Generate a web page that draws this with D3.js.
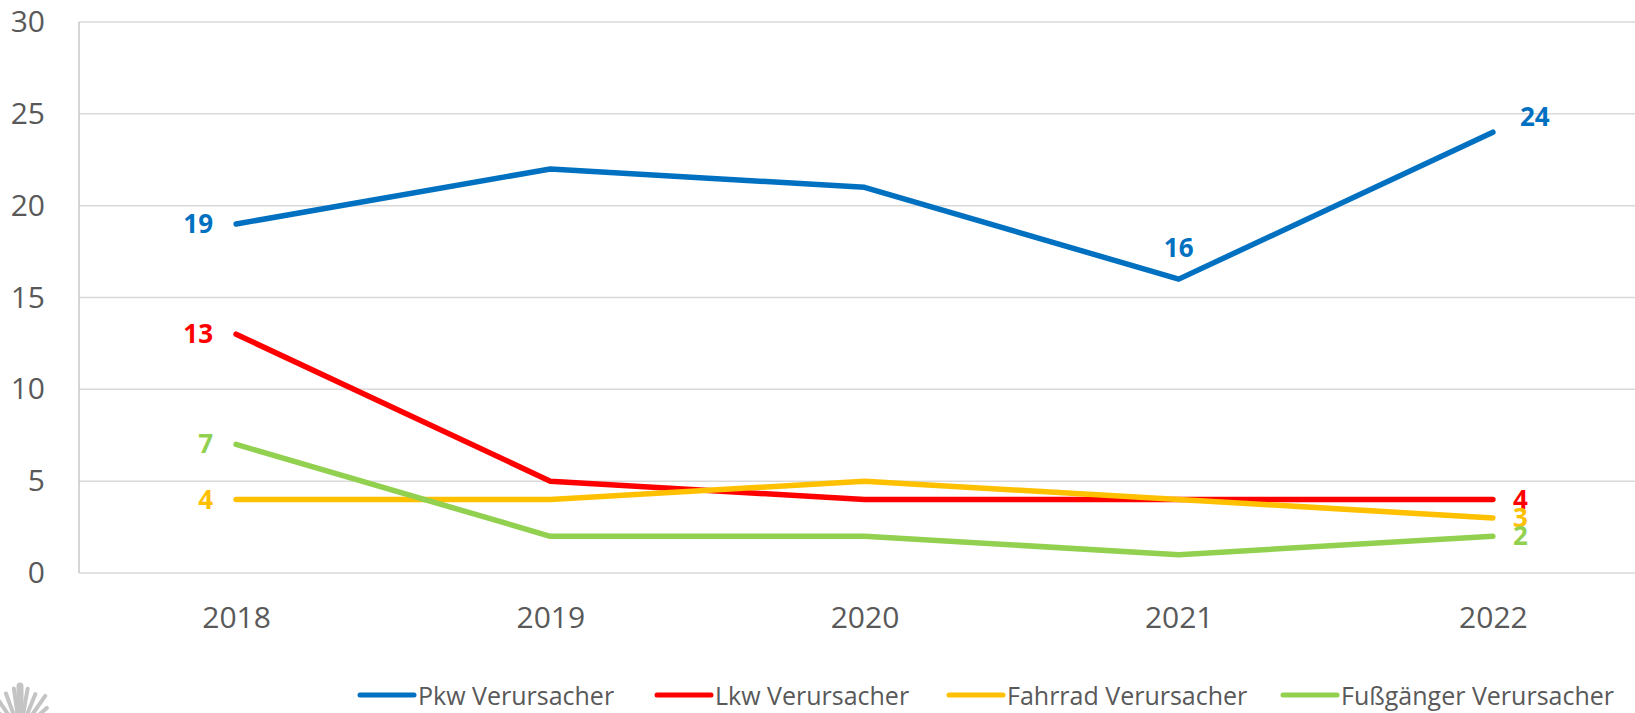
<!DOCTYPE html>
<html>
<head>
<meta charset="utf-8">
<script src="https://cdn.jsdelivr.net/npm/d3@7"></script>
<style>
  html, body { margin: 0; padding: 0; background: #fff; }
  svg { display: block; font-family: "Open Sans", "Noto Sans", sans-serif; }
</style>
</head>
<body>
<svg id="chart" width="1635" height="713"></svg>
<script>
// data
var years = ["2018", "2019", "2020", "2021", "2022"];
var seriesNames = ["Pkw Verursacher", "Lkw Verursacher", "Fahrrad Verursacher", "Fußgänger Verursacher"];
var pkw = [19, 22, 21, 16, 24];
var lkw = [13, 5, 4, 4, 4];
var fahrrad = [4, 4, 5, 4, 3];
var fuss = [7, 2, 2, 1, 2];
var yTicks = [0, 5, 10, 15, 20, 25, 30];
var colors = ["#0070C0", "#FF0000", "#FFC000", "#92D050"];

// which points carry a label, and where it sits
var labels = [
  { s: 0, i: 0, pos: "left" }, { s: 0, i: 3, pos: "above" }, { s: 0, i: 4, pos: "rightUp" },
  { s: 1, i: 0, pos: "left" }, { s: 1, i: 4, pos: "right" },
  { s: 2, i: 0, pos: "left" }, { s: 2, i: 4, pos: "right" },
  { s: 3, i: 0, pos: "left" }, { s: 3, i: 4, pos: "right" }
];

var allSeries = [pkw, lkw, fahrrad, fuss];

var svg = d3.select("#chart");
var plotLeft = 79, plotTop = 22, plotBottom = 573, plotRight = 1650;

var x = d3.scalePoint().domain(years).range([plotLeft, plotRight]).padding(0.5);
var y = d3.scaleLinear().domain([0, 30]).range([plotBottom, plotTop]);

// gridlines
svg.append("g").selectAll("line")
  .data(yTicks)
  .enter().append("line")
  .attr("x1", plotLeft).attr("x2", 1635)
  .attr("y1", function (d) { return y(d); })
  .attr("y2", function (d) { return y(d); })
  .attr("stroke", "#d9d9d9").attr("stroke-width", 1.5);

// left border of plot
svg.append("line")
  .attr("x1", plotLeft).attr("x2", plotLeft).attr("y1", plotTop).attr("y2", plotBottom)
  .attr("stroke", "#c8c8c8").attr("stroke-width", 1.5);

// y axis labels
var yAxis = d3.axisLeft(y).tickValues(yTicks).tickSize(0).tickPadding(34);
var gy = svg.append("g").attr("transform", "translate(" + plotLeft + ",0)").call(yAxis);
gy.select(".domain").remove();
gy.selectAll("text").attr("font-size", 30).attr("fill", "#595959")
  .attr("font-family", "Open Sans, sans-serif");

// x axis labels
var xAxis = d3.axisBottom(x).tickSize(0).tickPadding(34);
var gx = svg.append("g").attr("transform", "translate(0," + plotBottom + ")").call(xAxis);
gx.select(".domain").remove();
gx.selectAll("text").attr("font-size", 30).attr("fill", "#595959")
  .attr("font-family", "Open Sans, sans-serif");

// lines
var line = d3.line()
  .x(function (d, i) { return x(years[i]); })
  .y(function (d) { return y(d); });

svg.append("g").selectAll("path")
  .data(allSeries)
  .enter().append("path")
  .attr("d", line)
  .attr("fill", "none")
  .attr("stroke", function (d, i) { return colors[i]; })
  .attr("stroke-width", 5.5)
  .attr("stroke-linecap", "round")
  .attr("stroke-linejoin", "round");

// data labels
svg.append("g").selectAll("text")
  .data(labels)
  .enter().append("text")
  .attr("x", function (d) {
    var px = x(years[d.i]);
    if (d.pos == "left") return px - 23;
    if (d.pos == "above") return px;
    if (d.pos == "rightUp") return px + 27;
    return px + 20;
  })
  .attr("y", function (d) {
    var py = y(allSeries[d.s][d.i]);
    if (d.pos == "above") return py - 22;
    if (d.pos == "rightUp") return py - 6;
    return py + 9;
  })
  .attr("text-anchor", function (d) {
    if (d.pos == "left") return "end";
    if (d.pos == "above") return "middle";
    return "start";
  })
  .attr("font-size", 26)
  .attr("font-weight", "bold")
  .attr("fill", function (d) { return colors[d.s]; })
  .text(function (d) { return allSeries[d.s][d.i]; });

// legend
var legendX = [360, 657, 949, 1283];
var lg = svg.append("g").selectAll("g")
  .data(seriesNames)
  .enter().append("g")
  .attr("transform", function (d, i) { return "translate(" + legendX[i] + ",695)"; });
lg.append("line")
  .attr("x1", 0).attr("x2", 54).attr("y1", 0).attr("y2", 0)
  .attr("stroke", function (d, i) { return colors[i]; })
  .attr("stroke-width", 5).attr("stroke-linecap", "round");
lg.append("text")
  .attr("x", 58).attr("y", 10)
  .attr("font-size", 25).attr("fill", "#595959")
  .text(function (d) { return d; });

// piece of the logo in the bottom left corner
var rays = [[-62, 14], [-48, 20], [-34, 24], [-20, 27], [-8, 30], [0, 32], [10, 30], [22, 27], [35, 30], [48, 22]];
svg.append("g").attr("transform", "translate(20,732)")
  .selectAll("line").data(rays).enter().append("line")
  .attr("x1", 0).attr("y1", 0)
  .attr("x2", function (d) { return Math.sin(d[0] * Math.PI / 180) * (d[1] + 14); })
  .attr("y2", function (d) { return -Math.cos(d[0] * Math.PI / 180) * (d[1] + 14); })
  .attr("stroke", "#c4c4c4")
  .attr("stroke-width", function (d, i) { return i == 5 ? 7 : 4; })
  .attr("stroke-linecap", "round");
</script>
</body>
</html>
